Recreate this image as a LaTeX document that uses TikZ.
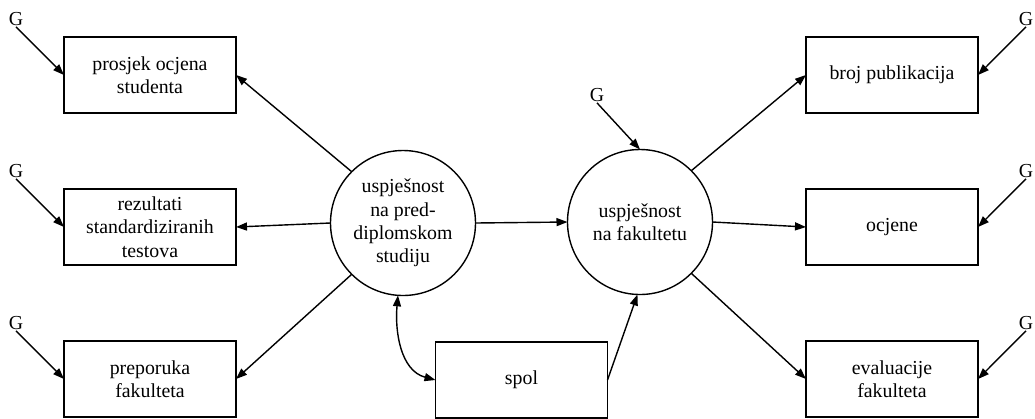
\documentclass[tikz,border=0pt]{standalone}
\usepackage{fontspec}
\setmainfont{Liberation Serif}
\usetikzlibrary{arrows.meta,positioning}
\tikzset{
  txt/.style={font=\fontsize{19.9}{23.4}\selectfont},
  vbox/.style={draw, txt, line width=1.4bp, minimum width=172bp, minimum height=76bp,
               inner sep=0pt, outer sep=0pt, align=center},
  lat/.style={draw, txt, circle, line width=1.4bp, minimum size=145bp,
              inner sep=0pt, outer sep=0pt, align=center},
  gnode/.style={txt, inner sep=1bp},
  flow/.style={-{Triangle[length=11bp,width=8bp]}, line width=1.4bp},
  flowb/.style={{Triangle[length=11bp,width=8bp]}-{Triangle[length=11bp,width=8bp]}, line width=1.4bp},
}
\begin{document}
\begin{tikzpicture}[x=1bp, y=-1bp, node distance=76bp]
  \useasboundingbox (0,0) rectangle (1035,418);
  \node[vbox] (l1) at (150,75) {prosjek ocjena\\studenta};
  \node[vbox, below=of l1] (l2) {rezultati\\standardiziranih\\testova};
  \node[vbox, below=of l2] (l3) {preporuka\\fakulteta};
  \node[vbox] (r1) at (892,75) {broj publikacija};
  \node[vbox, below=of r1] (r2) {ocjene};
  \node[vbox, below=of r2] (r3) {evaluacije\\fakulteta};
  \node[lat] (c1) at (403,223) {uspješnost\\na pred-\\diplomskom\\studiju};
  \node[lat] (c2) at (640,222) {uspješnost\\na fakultetu};
  \node[vbox] (sp) at (521.5,380) {spol};
  \node[gnode] (gl1) at (16,19) {G};
  \node[gnode] (gl2) at (16,171) {G};
  \node[gnode] (gl3) at (16,323) {G};
  \node[gnode] (gr1) at (1026,19) {G};
  \node[gnode] (gr2) at (1026,171) {G};
  \node[gnode] (gr3) at (1026,323) {G};
  \node[gnode] (gm) at (597,95) {G};
  \foreach \g/\b in {gl1/l1,gl2/l2,gl3/l3}
     \draw[flow] (\g.south) -- (\b.west);
  \foreach \g/\b in {gr1/r1,gr2/r2,gr3/r3}
     \draw[flow] (\g.south) -- (\b.east);
  \draw[flow] (gm.south) -- (c2.north);
  \draw[flow] (c1.135) -- (l1.east);
  \draw[flow] (c1.west) -- (l2.east);
  \draw[flow] (c1.225) -- (l3.east);
  \draw[flow] (c1.east) -- (c2.west);
  \draw[flow] (c2.45) -- (r1.west);
  \draw[flow] (c2.east) -- (r2.west);
  \draw[flow] (c2.-45) -- (r3.west);
  \draw[flowb] (c1.266) to[out=-95,in=165] (sp.west);
  \draw[flow] (sp.east) -- (c2.268);
\end{tikzpicture}
\end{document}
